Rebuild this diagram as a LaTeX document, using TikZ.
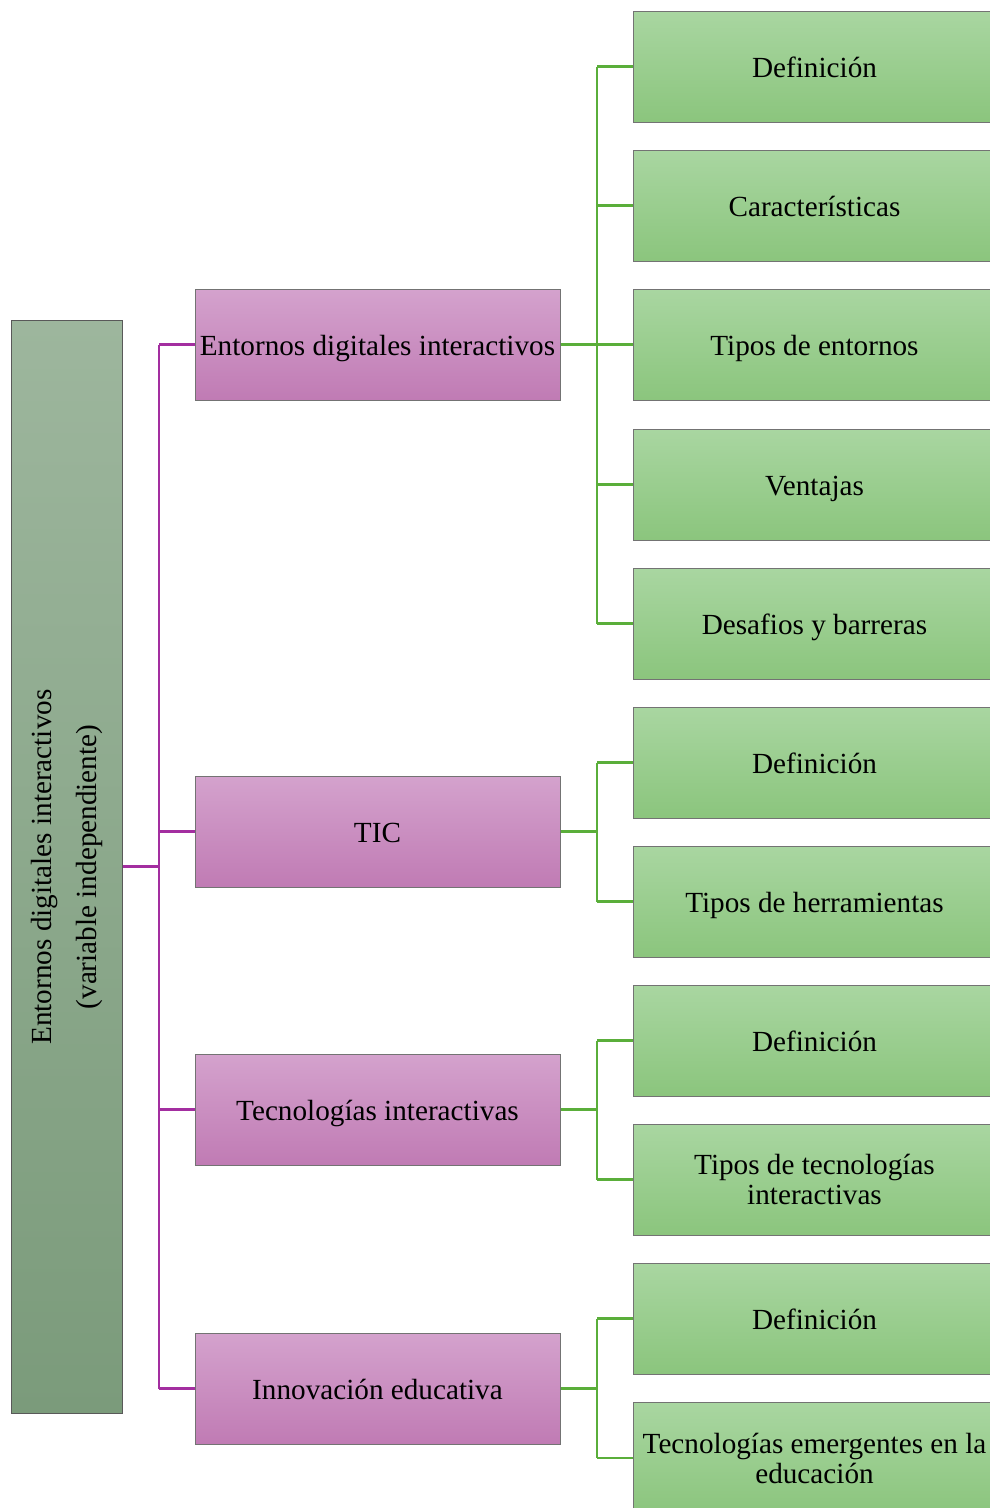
\documentclass[tikz,border=0pt]{standalone}
\usepackage{fontspec}
\setmainfont{Liberation Serif}
\begin{document}
\begin{tikzpicture}[x=1pt,y=-1pt,
  txt/.style={font=\fontsize{29.2}{30}\selectfont, text=black},
  rootbox/.style={draw=black!65, line width=1pt, top color=rootTop, bottom color=rootBot, minimum width=111pt, minimum height=1093pt, inner sep=0pt},
  midbox/.style={txt, draw=black!55, line width=1pt, top color=pinkTop, bottom color=pinkBot, minimum width=365pt, minimum height=111pt, inner sep=2pt, text height=21pt, text depth=0pt},
  leafbox/.style={txt, draw=black!55, line width=1pt, top color=greenTop, bottom color=greenBot, minimum width=362pt, minimum height=111pt, inner sep=2pt, align=center, anchor=west},
  one/.style={text height=21pt, text depth=0pt},
  pline/.style={draw=purpleLine, line width=2.5pt},
  gline/.style={draw=greenLine, line width=2.5pt}]
\definecolor{rootTop}{HTML}{9DB69D}
\definecolor{rootBot}{HTML}{7B9B7B}
\definecolor{pinkTop}{HTML}{D4A2CD}
\definecolor{pinkBot}{HTML}{C07BB4}
\definecolor{greenTop}{HTML}{A9D6A1}
\definecolor{greenBot}{HTML}{8BC57D}
\definecolor{purpleLine}{HTML}{A32EA0}
\definecolor{greenLine}{HTML}{5AAE3A}
\useasboundingbox (0,0) rectangle (990,1508);
\clip (0,0) rectangle (990,1508);
\fill[white] (0,0) rectangle (990,1508);

% root
\node[rootbox] (root) at (66.5,866.5) {};
\node[font=\fontsize{29.2}{45}\selectfont, rotate=90, align=center] (roottxt) at (66.5,867) {Entornos digitales interactivos\\(variable independiente)};

% middle
\node[midbox] (m1) at (377.5,344.5) {Entornos digitales interactivos};
\node[midbox] (m2) at (377.5,831.5) {TIC};
\node[midbox] (m3) at (377.5,1109.5) {Tecnologías interactivas};
\node[midbox] (m4) at (377.5,1388.5) {Innovación educativa};

% leaves
\node[leafbox, one] (l1) at (633,66.5) {Definición};
\node[leafbox, one] (l2) at (633,205.5) {Características};
\node[leafbox, one] (l3) at (633,344.5) {Tipos de entornos};
\node[leafbox, one] (l4) at (633,484.5) {Ventajas};
\node[leafbox, one] (l5) at (633,623.5) {Desafios y barreras};
\node[leafbox, one] (l6) at (633,762.5) {Definición};
\node[leafbox, one] (l7) at (633,901.5) {Tipos de herramientas};
\node[leafbox, one] (l8) at (633,1040.5) {Definición};
\node[leafbox] (l9) at (633,1179.5) {Tipos de tecnologías\\interactivas};
\node[leafbox, one] (l10) at (633,1318.5) {Definición};
\node[leafbox, minimum height=112pt] (l11) at (633,1458) {Tecnologías emergentes en la\\educación};

% purple connectors
\coordinate (pj) at (159,866.5);
\draw[pline] (root.east |- pj) -- (pj);
\foreach \m in {m1,m2,m3,m4} \draw[pline] (pj |- \m.west) -- (\m.west);
\draw[pline] (pj |- m1.west) -- (pj |- m4.west);

% green connectors
\foreach \m/\a/\b in {m1/l1/l5, m2/l6/l7, m3/l8/l9, m4/l10/l11} {
  \draw[gline] (\m.east) -- (597,0 |- \m.east);
  \draw[gline] (597,0 |- \a.west) -- (597,0 |- \b.west);
}
\foreach \l in {l1,l2,l3,l4,l5,l6,l7,l8,l9,l10,l11} \draw[gline] (597,0 |- \l.west) -- (\l.west);
\end{tikzpicture}
\end{document}
